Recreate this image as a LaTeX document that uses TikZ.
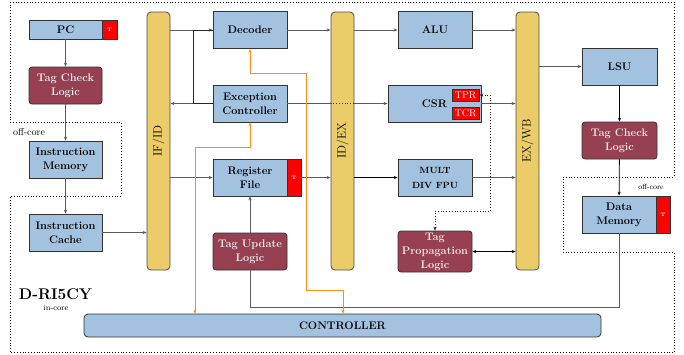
\documentclass[tikz,border=0pt]{standalone}
\usetikzlibrary{arrows.meta}
\definecolor{blueF}{RGB}{163,194,224}
\definecolor{tagR}{RGB}{150,64,82}
\definecolor{barY}{RGB}{236,204,104}
\definecolor{orng}{RGB}{255,140,20}
\definecolor{lineC}{RGB}{90,90,90}
\tikzset{
  blk/.style={draw=black!80, fill=blueF, line width=0.8pt, inner sep=0pt, align=center,
    minimum width=74pt, minimum height=37pt, font=\fontsize{11}{14}\selectfont\bfseries},
  tagb/.style={draw=black!80, fill=tagR, line width=0.8pt, inner sep=0pt, align=center, rounded corners=3pt,
    minimum width=74pt, minimum height=37pt, text=white!92!black, font=\fontsize{11}{14}\selectfont\bfseries},
  tbox/.style={draw=black!80, fill=red, line width=0.8pt, inner sep=0pt, text=white,
    font=\fontsize{5}{6}\selectfont\bfseries},
  regbox/.style={draw=black!80, fill=red, line width=0.8pt, inner sep=0pt, text=white,
    minimum width=27pt, minimum height=12pt, font=\fontsize{10}{11}\selectfont},
  barn/.style={draw=black!70, fill=barY, line width=0.8pt, rounded corners=4pt,
    minimum width=23pt, minimum height=258pt, inner sep=0pt},
  barlbl/.style={rotate=90, font=\fontsize{12}{14}\selectfont},
  conn/.style={draw=lineC, line width=0.8pt},
  orl/.style={draw=orng, line width=0.9pt},
  lbl/.style={inner sep=0pt, font=\fontsize{10}{12}\selectfont}
}
\begin{document}
\begin{tikzpicture}[x=1pt,y=-1pt, >={Stealth[length=4pt,width=3.2pt]}]
\useasboundingbox (0,0) rectangle (684,354);
% region outline
\draw[dotted, line width=0.8pt] (10,2) -- (674,2) -- (674,177) -- (563,177) -- (563,252) -- (674,252)
  -- (674,352.5) -- (10,352.5) -- (10,196) -- (121,196) -- (121,122) -- (10,122) -- cycle;
\node[lbl] (offa) at (29,132) {off-core};
\node[lbl, font=\fontsize{7.5}{9}\selectfont] (offb) at (651,187) {off-core};
\node[inner sep=0pt, font=\fontsize{15.5}{18}\selectfont\bfseries] (title) at (55.5,294) {D-RI5CY};
\node[lbl, font=\fontsize{8}{9}\selectfont] (incore) at (56,307.5) {in-core};

% left column
\node[blk, minimum width=73pt, minimum height=19pt] (pc) at (65.5,29.5) {PC};
\node[tbox, minimum width=15pt, minimum height=19pt] (pct) at (109.5,29.5) {T};
\node[tagb, minimum width=73pt] (tcl1) at (65.5,85.5) {Tag Check\\Logic};
\node[blk, minimum width=73pt] (imem) at (65.5,159.5) {Instruction\\Memory};
\node[blk, minimum width=73pt] (icache) at (65.5,232.5) {Instruction\\Cache};

% pipeline bars
\node[barn] (ifid) at (158.5,141) {};
\node[barlbl] (ifidl) at (ifid) {IF/ID};
\node[barn] (idex) at (342.5,141) {};
\node[barlbl] (idexl) at (idex) {ID/EX};
\node[barn] (exwb) at (527.5,141) {};
\node[barlbl] (exwbl) at (exwb) {EX/WB};

% decode stage
\node[blk] (dec) at (250,30) {Decoder};
\node[blk] (exc) at (250,103.5) {Exception\\Controller};
\node[blk] (rf) at (250,177.5) {Register\\File};
\node[tbox, minimum width=14pt, minimum height=37pt] (rft) at (294,177.5) {T};
\node[tagb] (tu) at (250,251.5) {Tag Update\\Logic};

% execute stage
\node[blk] (alu) at (435,30) {ALU};
\node[blk, minimum width=93pt] (csr) at (434.5,103.5) {CSR};
\node[regbox] (tpr) at (465.5,95) {TPR};
\node[regbox] (tcr) at (465.5,113) {TCR};
\node[blk, font=\fontsize{9}{15}\selectfont\bfseries] (mult) at (435,177.5) {MULT\\DIV FPU};
\node[tagb, minimum height=41pt] (tp) at (435,251.5) {Tag\\Propagation\\Logic};

% memory side
\node[blk, minimum width=75pt] (lsu) at (619.5,66.5) {LSU};
\node[tagb, minimum width=75pt] (tcl2) at (619.5,140.5) {Tag Check\\Logic};
\node[blk] (dm) at (619,214.5) {Data\\Memory};
\node[tbox, minimum width=14pt, minimum height=37pt] (dmt) at (663,214.5) {T};

% controller
\node[blk, minimum width=517pt, minimum height=23pt, rounded corners=4pt] (ctrl) at (342.5,325.5) {CONTROLLER};

% connectors left column
\draw[conn,->] (pc) -- (tcl1);
\draw[conn,->] (tcl1) -- (imem);
\draw[conn,->] (imem) -- (icache);
\draw[conn,->] (icache) -- (ifid.west |- icache);

% IF/ID outputs
\draw[conn,->] (ifid.east |- dec) -- (dec);
\draw[conn,->] (exc) -- (ifid.east |- exc);
\draw[draw=black!85, line width=0.9pt] (exc.west) -- ++(-19,0) |- (dec.west);
\draw[conn,->] (ifid.east |- rf) -- (rf);
\draw[conn,->] (tu) -- (rf);

% ID/EX
\draw[conn,->] (dec) -- (idex.west |- dec);
\draw[conn,->] (rft) -- (idex.west |- rft);
\draw[conn] (exc) -- (idex.west |- exc);
\draw[draw=black!80, line width=0.8pt, dotted] (idex.west |- exc) -- (idex.east |- exc);
\draw[conn,->] (idex.east |- exc) -- (csr);
\draw[conn,->] (idex.east |- alu) -- (alu);
\draw[draw=black, line width=1.1pt,->] (idex.east |- mult) -- (mult);

% EX/WB
\draw[conn,->] (alu) -- (exwb.west |- alu);
\draw[conn,->] (csr) -- (exwb.west |- csr);
\draw[conn,->] (mult) -- (exwb.west |- mult);
\draw[draw=black, line width=0.8pt,<->] (tp) -- (exwb.west |- tp);
\draw[draw=black!85, line width=0.8pt, dotted, <->] (tpr.east) -- ++(11,0) |- (435,211) -- (tp.north);
\draw[conn,->] (exwb.east |- lsu) -- (lsu);
\draw[draw=black, line width=0.8pt,->] (lsu) -- (tcl2);
\draw[draw=black, line width=0.8pt,->] (tcl2) -- (dm);
\draw[conn] (dm.south) -- ++(0,73.5) -| (tu.south);

% orange control lines
\draw[orl,<->] (dec.south) -- ++(0,25) -| (306,290) -| (ctrl.north -| 343,0);
\draw[orl,<->] (exc.south) -- ++(0,25.5) -| (ctrl.north -| 195,0);
\end{tikzpicture}
\end{document}
